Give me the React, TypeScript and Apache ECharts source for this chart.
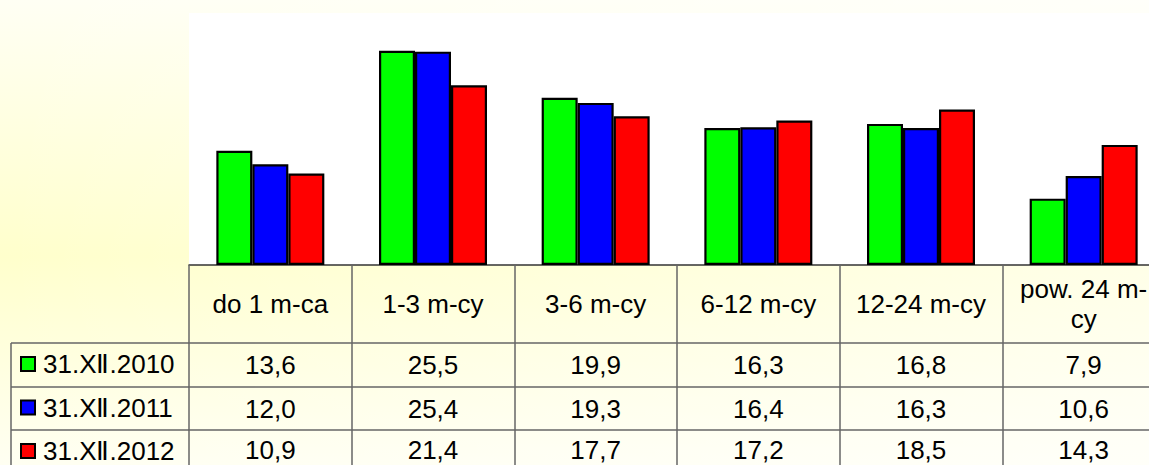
import React, { useEffect, useRef } from "react";
import * as echarts from "echarts";

const categories = ["do 1 m-ca", "1-3 m-cy", "3-6 m-cy", "6-12 m-cy", "12-24 m-cy", "pow. 24 m-cy"];
const seriesNames = ["31.XⅡ.2010", "31.XⅡ.2011", "31.XⅡ.2012"];
const values2010 = [13.6, 25.5, 19.9, 16.3, 16.8, 7.9];
const values2011 = [12.0, 25.4, 19.3, 16.4, 16.3, 10.6];
const values2012 = [10.9, 21.4, 17.7, 17.2, 18.5, 14.3];
const seriesColors = ["#00FF00", "#0000FF", "#FF0000"];

const FONT = "'Liberation Sans', Arial, sans-serif";
const fmt = (v: number) => v.toFixed(1).replace(".", ",");

export default function App() {
  const ref = useRef<HTMLDivElement>(null);
  useEffect(() => {
    if (!ref.current) return;
    const chart = echarts.init(ref.current, null, { renderer: "svg" });
    const allValues = [values2010, values2011, values2012];
    const gridLeft = 189;
    const baseline = 265;
    const rowLines = [343, 387, 430];
    const lineColor = "#666";

    const valueAxis = (arr: number[], offset: number, margin: number) => ({
      type: "category",
      data: categories,
      position: "bottom",
      offset,
      axisLine: { show: true, lineStyle: { color: lineColor, width: 1.5 } },
      axisTick: { show: false },
      splitLine: { show: false },
      axisLabel: {
        interval: 0,
        margin,
        verticalAlign: "middle",
        fontSize: 26,
        fontFamily: FONT,
        color: "#000",
        formatter: (_v: string, i: number) => fmt(arr[i]),
      },
    });

    chart.setOption({
      animation: false,
      backgroundColor: {
        type: "linear",
        x: 0, y: 0, x2: 0, y2: 1,
        colorStops: [
          { offset: 0, color: "#FFFFF4" },
          { offset: 0.55, color: "#FFFFCC" },
          { offset: 1, color: "#FFFFF2" },
        ],
      },
      graphic: [
        {
          type: "rect",
          z: -100,
          silent: true,
          shape: { x: 0, y: 0, width: 1200, height: 465 },
          style: {
            fill: {
              type: "linear",
              x: 0, y: 0, x2: 1, y2: 0,
              colorStops: [
                { offset: 0, color: "rgba(255,255,255,0)" },
                { offset: 1, color: "rgba(255,255,255,0.55)" },
              ],
            },
          },
        },
        ...rowLines.map((y) => ({
          type: "line",
          silent: true,
          shape: { x1: 11, y1: y, x2: gridLeft, y2: y },
          style: { stroke: lineColor, lineWidth: 1.5 },
        })),
        {
          type: "line",
          silent: true,
          shape: { x1: 11, y1: rowLines[0], x2: 11, y2: 470 },
          style: { stroke: lineColor, lineWidth: 1.5 },
        },
      ],
      legend: {
        orient: "vertical",
        left: 20,
        top: 351,
        padding: 0,
        itemWidth: 14,
        itemHeight: 14,
        itemGap: 17.5,
        selectedMode: false,
        icon: "rect",
        data: seriesNames,
        textStyle: {
          fontSize: 26,
          lineHeight: 26,
          fontFamily: FONT,
          color: "#000",
          padding: [0, 0, 0, 3],
        },
      },
      grid: {
        left: gridLeft,
        top: 13,
        width: 976,
        height: baseline - 13,
        show: true,
        backgroundColor: "#FFFFFF",
        borderWidth: 0,
        containLabel: false,
      },
      xAxis: [
        {
          type: "category",
          data: categories,
          position: "bottom",
          axisLine: { show: true, lineStyle: { color: "#333", width: 1.5 } },
          axisTick: { show: true, interval: 0, length: 205, lineStyle: { color: lineColor, width: 1.5 } },
          splitLine: { show: false },
          axisLabel: {
            interval: 0,
            margin: 39,
            verticalAlign: "middle",
            lineHeight: 30,
            fontSize: 26,
            fontFamily: FONT,
            color: "#000",
            formatter: (v: string) => (v === "pow. 24 m-cy" ? "pow. 24 m-\ncy" : v),
          },
        },
        valueAxis(values2010, 78, 22),
        valueAxis(values2011, 122, 21.5),
        valueAxis(values2012, 165, 20),
      ],
      yAxis: {
        type: "value",
        min: 0,
        max: 30,
        show: false,
      },
      series: seriesNames.map((name, i) => ({
        name,
        type: "bar",
        xAxisIndex: 0,
        barWidth: 36,
        barGap: "0%",
        data: allValues[i],
        itemStyle: { color: seriesColors[i], borderColor: "#000", borderWidth: 2.2 },
      })),
    });
    return () => chart.dispose();
  }, []);
  return (
    <div style={{ position: "absolute", left: 0, top: 0, width: 1149, height: 465, overflow: "hidden" }}>
      <div ref={ref} style={{ width: 1200, height: 465 }} />
    </div>
  );
}
